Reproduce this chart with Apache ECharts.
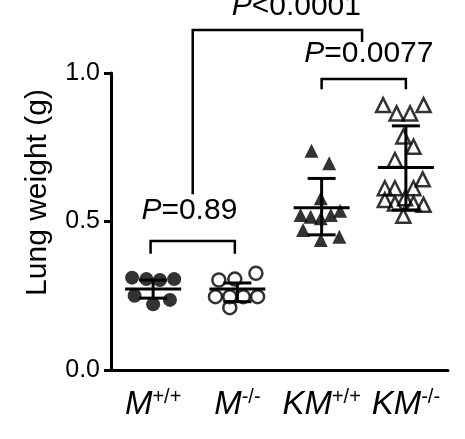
<!DOCTYPE html>
<html>
<head>
<meta charset="utf-8" />
<script src="https://cdn.jsdelivr.net/npm/echarts@6/dist/echarts.min.js"></script>
<style>
  html, body { margin: 0; padding: 0; background: #fff; }
  #chart { width: 465px; height: 439px; }
</style>
</head>
<body>
<div id="chart"></div>
<script>
const categories = ["M+/+", "M-/-", "KM+/+", "KM-/-"];
const labelBase = ["M", "M", "KM", "KM"];
const labelSup = ["+/+", "-/-", "+/+", "-/-"];
const yTicks = [0, 0.5, 1.0];

// points: x is category position (group index + jitter), y is lung weight
const mWtX = [-0.25, -0.08, 0.08, 0.25, -0.22, 0.0, 0.2];
const mWtY = [0.311, 0.306, 0.303, 0.306, 0.25, 0.221, 0.236];
const mKoX = [0.78, 0.97, 1.22, 0.74, 0.91, 1.07, 1.24, 0.91];
const mKoY = [0.303, 0.306, 0.326, 0.247, 0.247, 0.247, 0.247, 0.21];
const kmWtX = [1.88, 2.09, 1.99, 1.75, 1.87, 1.99, 2.11, 2.22, 1.78, 1.99, 2.21];
const kmWtY = [0.738, 0.696, 0.578, 0.522, 0.516, 0.511, 0.522, 0.536, 0.471, 0.438, 0.449];
const kmKoX = [2.73, 2.89, 3.05, 3.21, 2.97, 3.09, 2.87, 3.2, 2.75, 2.87, 3.09, 2.75, 2.87, 2.99, 3.09, 3.21, 2.97];
const kmKoY = [0.892, 0.864, 0.864, 0.892, 0.786, 0.752, 0.707, 0.642, 0.612, 0.612, 0.612, 0.572, 0.561, 0.578, 0.561, 0.556, 0.519];

// mean and SD whiskers per group
const groupPos = [0, 1, 2, 3];
const groupMean = [0.273, 0.273, 0.546, 0.682];
const groupLow = [0.242, 0.23, 0.455, 0.539];
const groupHigh = [0.303, 0.293, 0.645, 0.822];

// significance brackets
const bracketX1 = [-0.03, 0.47, 2];
const bracketX2 = [0.97, 2.48, 3];
const bracketTop = [0.434, 1.145, 0.98];
const bracketLeftEnd = [0.391, 0.592, 0.945];
const bracketRightEnd = [0.391, 1.104, 0.945];

const pLabelText = ["{i|P}=0.89", "{i|P}<0.0001", "{i|P}=0.0077"];
const pLabelX = [0.43, 1.7, 2.56];
const pLabelY = [0.535, 1.222, 1.066];

const FONT = "'Liberation Sans', Arial, Helvetica, sans-serif";

const zip = (xs, ys) => xs.map((x, i) => [x, ys[i]]);

function renderErrorBar(params, api) {
  const x = api.value(0);
  const c = api.coord([x, api.value(1)]);
  const lo = api.coord([x, api.value(2)]);
  const hi = api.coord([x, api.value(3)]);
  const style = { stroke: "#000", lineWidth: 3 };
  return {
    type: "group",
    children: [
      { type: "line", shape: { x1: c[0] - 28, y1: c[1], x2: c[0] + 28, y2: c[1] }, style },
      { type: "line", shape: { x1: c[0], y1: hi[1], x2: c[0], y2: lo[1] }, style },
      { type: "line", shape: { x1: c[0] - 14, y1: hi[1], x2: c[0] + 14, y2: hi[1] }, style },
      { type: "line", shape: { x1: c[0] - 14, y1: lo[1], x2: c[0] + 14, y2: lo[1] }, style },
    ],
  };
}

function renderBracket(params, api) {
  const a = api.coord([api.value(0), api.value(3)]);
  const b = api.coord([api.value(0), api.value(2)]);
  const c = api.coord([api.value(1), api.value(2)]);
  const d = api.coord([api.value(1), api.value(4)]);
  return {
    type: "polyline",
    shape: { points: [a, b, c, d] },
    style: { stroke: "#000", lineWidth: 2.5, fill: null },
  };
}

function renderPLabel(params, api) {
  const p = api.coord([api.value(0), api.value(1)]);
  return {
    type: "text",
    x: p[0],
    y: p[1],
    style: {
      text: pLabelText[params.dataIndex],
      align: "center",
      verticalAlign: "middle",
      fontFamily: FONT,
      fontSize: 30,
      fill: "#000",
      rich: {
        i: { fontStyle: "italic", fontSize: 30, fontFamily: FONT, fill: "#000" },
      },
    },
  };
}

const chart = echarts.init(document.getElementById("chart"), null, { renderer: "canvas" });
chart.setOption({
  animation: false,
  backgroundColor: "#fff",
  grid: { left: 111, right: 17, top: 73, bottom: 69 },
  xAxis: [
    {
      type: "category",
      data: categories,
      axisLine: { lineStyle: { color: "#000", width: 3 } },
      axisTick: { alignWithLabel: true, length: 8, lineStyle: { color: "#000", width: 3 } },
      axisLabel: {
        interval: 0,
        margin: 17,
        formatter: (v, i) => `{b|${labelBase[i]}}{s|${labelSup[i]}}`,
        rich: {
          b: { fontFamily: FONT, fontStyle: "italic", fontSize: 33, color: "#000", lineHeight: 36 },
          s: { fontFamily: FONT, fontSize: 20, color: "#000", verticalAlign: "top", lineHeight: 20 },
        },
      },
    },
    { type: "value", min: -0.5, max: 3.5, show: false },
  ],
  yAxis: {
    type: "value",
    min: 0,
    max: 1,
    interval: 0.5,
    name: "Lung weight (g)",
    nameLocation: "middle",
    nameGap: 58,
    nameTextStyle: { fontFamily: FONT, fontSize: 30, color: "#000", padding: [0, 0, 0, 58] },
    axisLine: { show: true, onZero: false, lineStyle: { color: "#000", width: 3 } },
    axisTick: { show: true, length: 7, lineStyle: { color: "#000", width: 3 } },
    axisLabel: {
      margin: 11,
      fontFamily: FONT,
      fontSize: 25,
      color: "#000",
      formatter: (v) => (yTicks.includes(v) ? v.toFixed(1) : ""),
    },
    splitLine: { show: false },
  },
  series: [
    {
      type: "scatter",
      xAxisIndex: 1,
      data: zip(mWtX, mWtY),
      symbol: "circle",
      symbolSize: 14,
      itemStyle: { color: "#000" },
    },
    {
      type: "scatter",
      xAxisIndex: 1,
      data: zip(mKoX, mKoY),
      symbol: "circle",
      symbolSize: 13,
      itemStyle: { color: "rgba(0,0,0,0)", borderColor: "#000", borderWidth: 2.5 },
    },
    {
      type: "scatter",
      xAxisIndex: 1,
      data: zip(kmWtX, kmWtY),
      symbol: "triangle",
      symbolSize: 14,
      itemStyle: { color: "#000" },
    },
    {
      type: "scatter",
      xAxisIndex: 1,
      data: zip(kmKoX, kmKoY),
      symbol: "triangle",
      symbolSize: 14,
      itemStyle: { color: "rgba(0,0,0,0)", borderColor: "#000", borderWidth: 2.5 },
    },
    {
      type: "custom",
      xAxisIndex: 1,
      clip: false,
      z: 5,
      data: groupPos.map((x, i) => [x, groupMean[i], groupLow[i], groupHigh[i]]),
      renderItem: renderErrorBar,
    },
    {
      type: "custom",
      xAxisIndex: 1,
      clip: false,
      data: bracketX1.map((x, i) => [x, bracketX2[i], bracketTop[i], bracketLeftEnd[i], bracketRightEnd[i]]),
      renderItem: renderBracket,
    },
    {
      type: "custom",
      xAxisIndex: 1,
      clip: false,
      data: zip(pLabelX, pLabelY),
      renderItem: renderPLabel,
    },
  ],
});
</script>
</body>
</html>
